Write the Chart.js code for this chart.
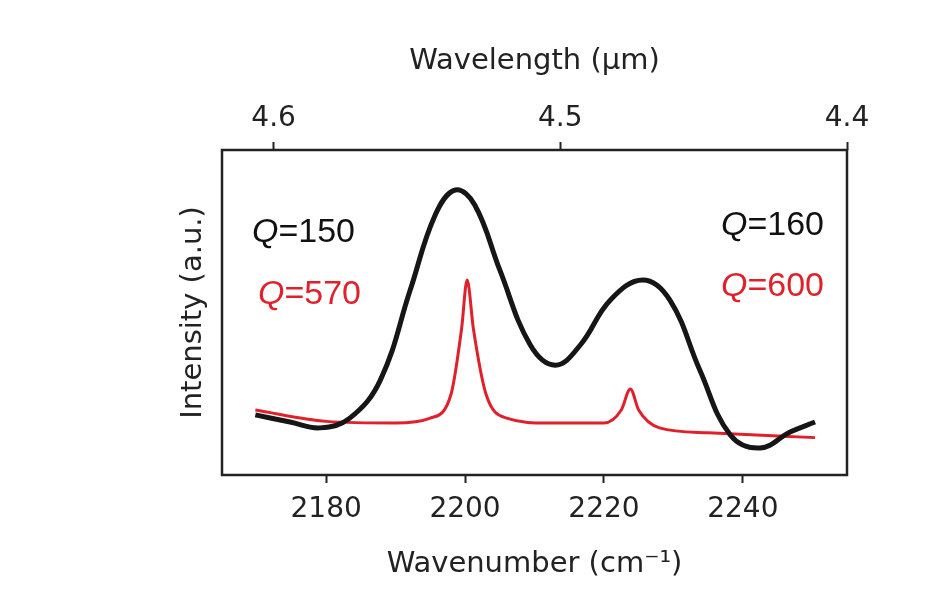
<!DOCTYPE html>
<html><head><meta charset="utf-8">
<script src="https://cdn.jsdelivr.net/npm/chart.js@4"></script>
<style>html,body{margin:0;background:#fff}#w{width:940px;height:600px}</style>
</head><body><div id="w"><canvas id="c"></canvas></div>
<script>
const blackX=[2169.8,2174.8,2179.1,2183.4,2187.8,2192.1,2195.7,2198.6,2201.4,2205,2209.4,2213,2216.6,2220.9,2225.6,2229.5,2233.8,2238.2,2242.5,2246.8,2250.4];
const blackY=[0.185,0.163,0.145,0.175,0.292,0.569,0.80,0.877,0.831,0.631,0.40,0.338,0.40,0.538,0.60,0.538,0.323,0.123,0.083,0.132,0.163];
const redX=[2169.8,2180,2190,2195,2198,2199.5,2200.3,2201.2,2203,2206,2212,2220,2222.5,2223.8,2225,2228,2235,2250.4];
const redY=[0.20,0.165,0.16,0.175,0.25,0.45,0.60,0.45,0.25,0.175,0.16,0.16,0.20,0.265,0.20,0.145,0.13,0.115];
const bottomTicks=[2180,2200,2220,2240];
const topTicks=[4.6,4.5,4.4];
const labels=[{t:'150',c:'#111',x:252,y:233,a:'left'},{t:'570',c:'#e0202a',x:258,y:295,a:'left'},{t:'160',c:'#111',x:824,y:226,a:'right'},{t:'600',c:'#e0202a',x:824,y:287,a:'right'}];
const pts=(xs,ys)=>xs.map((x,i)=>({x,y:ys[i]}));
const frame={id:'frame',afterDraw(ch){const a=ch.chartArea,g=ch.ctx;g.save();g.strokeStyle='#222';g.lineWidth=2.5;g.strokeRect(a.left,a.top,a.right-a.left,a.bottom-a.top);
g.textBaseline='middle';
labels.forEach(l=>{g.fillStyle=l.c;g.font='34px "Liberation Sans"';const w2=g.measureText('='+l.t).width;g.font='italic 34px "Liberation Sans"';const w1=g.measureText('Q').width;
let x=l.a==='left'?l.x:l.x-w1-w2;g.textAlign='left';g.fillText('Q',x,l.y);g.font='34px "Liberation Sans"';g.fillText('='+l.t,x+w1,l.y);});
g.restore();}};
new Chart(document.getElementById('c'),{type:'line',
data:{datasets:[
{data:pts(blackX,blackY),borderColor:'#161616',borderWidth:5,pointRadius:0,tension:0.4},
{data:pts(redX,redY),borderColor:'#e0202a',borderWidth:3,pointRadius:0,cubicInterpolationMode:'monotone'}]},
options:{animation:false,responsive:true,maintainAspectRatio:false,
layout:{padding:{left:172,right:93,top:40,bottom:14}},
plugins:{legend:{display:false},tooltip:{enabled:false}},
scales:{
x:{type:'linear',position:'bottom',min:2165,max:2255,
afterBuildTicks(s){s.ticks=bottomTicks.map(v=>({value:v}));},
afterFit(s){s.height=111;},
grid:{drawOnChartArea:false,tickLength:8,tickColor:'#222',tickWidth:2},border:{display:false},
ticks:{color:'#222',font:{family:'DejaVu Sans',size:28},padding:10,maxRotation:0,callback:v=>String(v)},
title:{display:true,text:'Wavenumber (cm\u207B\u00B9)',color:'#222',font:{family:'DejaVu Sans',size:29},padding:{top:4}}},
x2:{type:'linear',position:'top',min:4.4,max:4.618,reverse:true,
afterBuildTicks(s){s.ticks=topTicks.map(v=>({value:v}));},
afterFit(s){s.height=110;},
grid:{drawOnChartArea:false,tickLength:8,tickColor:'#222',tickWidth:2},border:{display:false},
ticks:{color:'#222',font:{family:'DejaVu Sans',size:28},padding:6,maxRotation:0,callback:v=>v.toFixed(1)},
title:{display:true,text:'Wavelength (\u03BCm)',color:'#222',font:{family:'DejaVu Sans',size:29},padding:{bottom:4}}},
y:{min:0,max:1,afterFit(s){s.width=50;},grid:{display:false},border:{display:false},ticks:{display:false},
title:{display:true,text:'Intensity (a.u.)',color:'#222',font:{family:'DejaVu Sans',size:29}}}
}},plugins:[frame]});
</script></body></html>
